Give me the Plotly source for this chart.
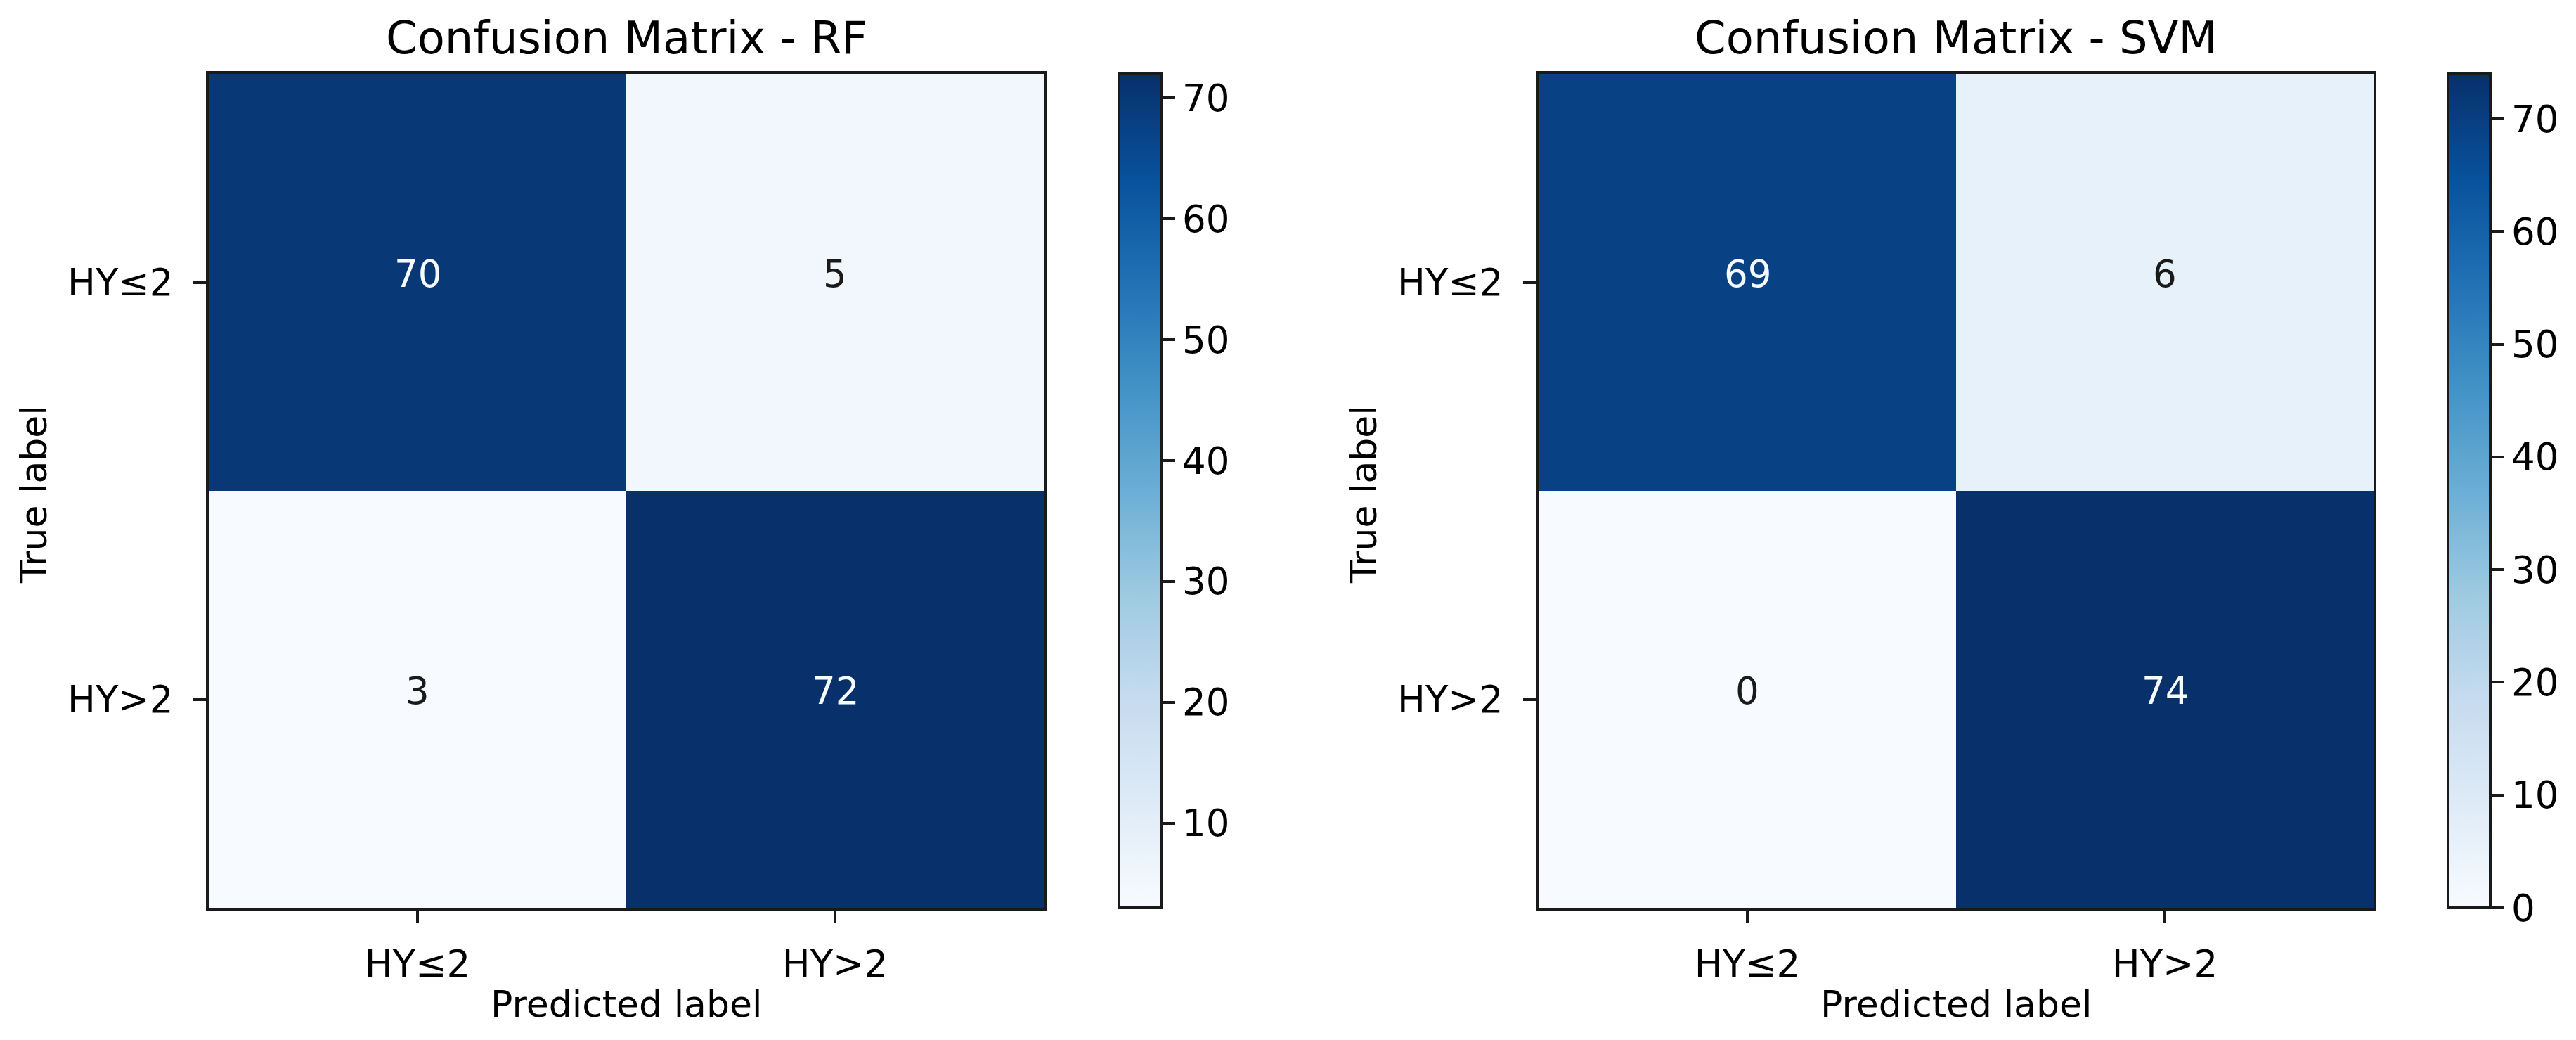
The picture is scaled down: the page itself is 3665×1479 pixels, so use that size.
import plotly.graph_objects as go

# ---- data ----
class_labels = ["HY≤2", "HY>2"]
rf_matrix = [[70, 5],
             [3, 72]]
svm_matrix = [[69, 6],
              [0, 74]]
titles = ["Confusion Matrix - RF", "Confusion Matrix - SVM"]
colorbar_ticks = [0, 10, 20, 30, 40, 50, 60, 70]

# matplotlib "Blues"
blues = ["#f7fbff", "#deebf7", "#c6dbef", "#9ecae1", "#6baed6",
         "#4292c6", "#2171b5", "#08519c", "#08306b"]
colorscale = [[i / 8, c] for i, c in enumerate(blues)]

W, H = 3665, 1479
FONT = "DejaVu Sans"
LINE = "#1a1a1a"

# pixel layout
panels = [
    dict(x0=297, x1=1485, cb_x=1592),
    dict(x0=2189, x1=3377, cb_x=3483),
]
top, bottom = 105, 1291

fig = go.Figure()
annotations = []
for k, (mat, title, p) in enumerate(zip([rf_matrix, svm_matrix], titles, panels)):
    xa = "x" if k == 0 else "x2"
    ya = "y" if k == 0 else "y2"
    zmin = min(min(r) for r in mat)
    zmax = max(max(r) for r in mat)
    fig.add_trace(go.Heatmap(
        z=mat, x=class_labels, y=class_labels,
        xaxis=xa, yaxis=ya,
        colorscale=colorscale, zmin=zmin, zmax=zmax,
        colorbar=dict(
            x=p["cb_x"] / W, xanchor="left", xpad=0, ypad=0,
            y=1 - bottom / H, yanchor="bottom",
            len=(bottom - top) / H, lenmode="fraction",
            thickness=60, thicknessmode="pixels",
            outlinewidth=4, outlinecolor=LINE,
            tickmode="array", tickvals=colorbar_ticks,
            ticks="outside", ticklen=18, tickwidth=4, tickcolor=LINE,
            tickfont=dict(family=FONT, size=53, color="black"),
        ),
        showscale=True,
        hoverinfo="z",
    ))
    thresh = (zmin + zmax) / 2
    for i, row in enumerate(mat):
        for j, v in enumerate(row):
            annotations.append(dict(
                x=class_labels[j], y=class_labels[i], xref=xa, yref=ya,
                text=str(v), showarrow=False, yshift=12,
                font=dict(family=FONT, size=53,
                          color="#f7fbff" if v > thresh else "#1a1a1a"),
            ))
    cx = (p["x0"] + p["x1"]) / 2 / W
    annotations.append(dict(
        x=cx, y=1 - 54 / H, xref="paper", yref="paper", text=title,
        showarrow=False, xanchor="center", yanchor="middle",
        font=dict(family=FONT, size=64, color="black"),
    ))
    annotations.append(dict(
        x=cx, y=1 - 1428 / H, xref="paper", yref="paper", text="Predicted label",
        showarrow=False, xanchor="center", yanchor="middle",
        font=dict(family=FONT, size=52, color="black"),
    ))
    annotations.append(dict(
        x=(p["x0"] - 249) / W, y=1 - 703 / H, xref="paper", yref="paper",
        text="True label", textangle=-90,
        showarrow=False, xanchor="center", yanchor="middle",
        font=dict(family=FONT, size=52, color="black"),
    ))

axis_common = dict(
    showline=True, mirror=True, linewidth=4, linecolor=LINE,
    ticks="outside", ticklen=18, tickwidth=4, tickcolor=LINE,
    tickfont=dict(family=FONT, size=53, color="black"),
    showgrid=False, zeroline=False, fixedrange=True,
)
ydom = [1 - bottom / H, 1 - top / H]
fig.update_layout(
    width=W, height=H,
    margin=dict(l=0, r=0, t=0, b=0),
    paper_bgcolor="white", plot_bgcolor="white",
    xaxis=dict(domain=[panels[0]["x0"] / W, panels[0]["x1"] / W], anchor="y",
               ticklabelstandoff=12, **axis_common),
    yaxis=dict(domain=ydom, anchor="x", autorange="reversed",
               ticklabelstandoff=18, **axis_common),
    xaxis2=dict(domain=[panels[1]["x0"] / W, panels[1]["x1"] / W], anchor="y2",
                ticklabelstandoff=12, **axis_common),
    yaxis2=dict(domain=ydom, anchor="x2", autorange="reversed",
                ticklabelstandoff=18, **axis_common),
    annotations=annotations,
    font=dict(family=FONT, color="black"),
)

fig.write_html("out.html", config={"displayModeBar": False},
               post_script="document.body.style.margin='0';")
